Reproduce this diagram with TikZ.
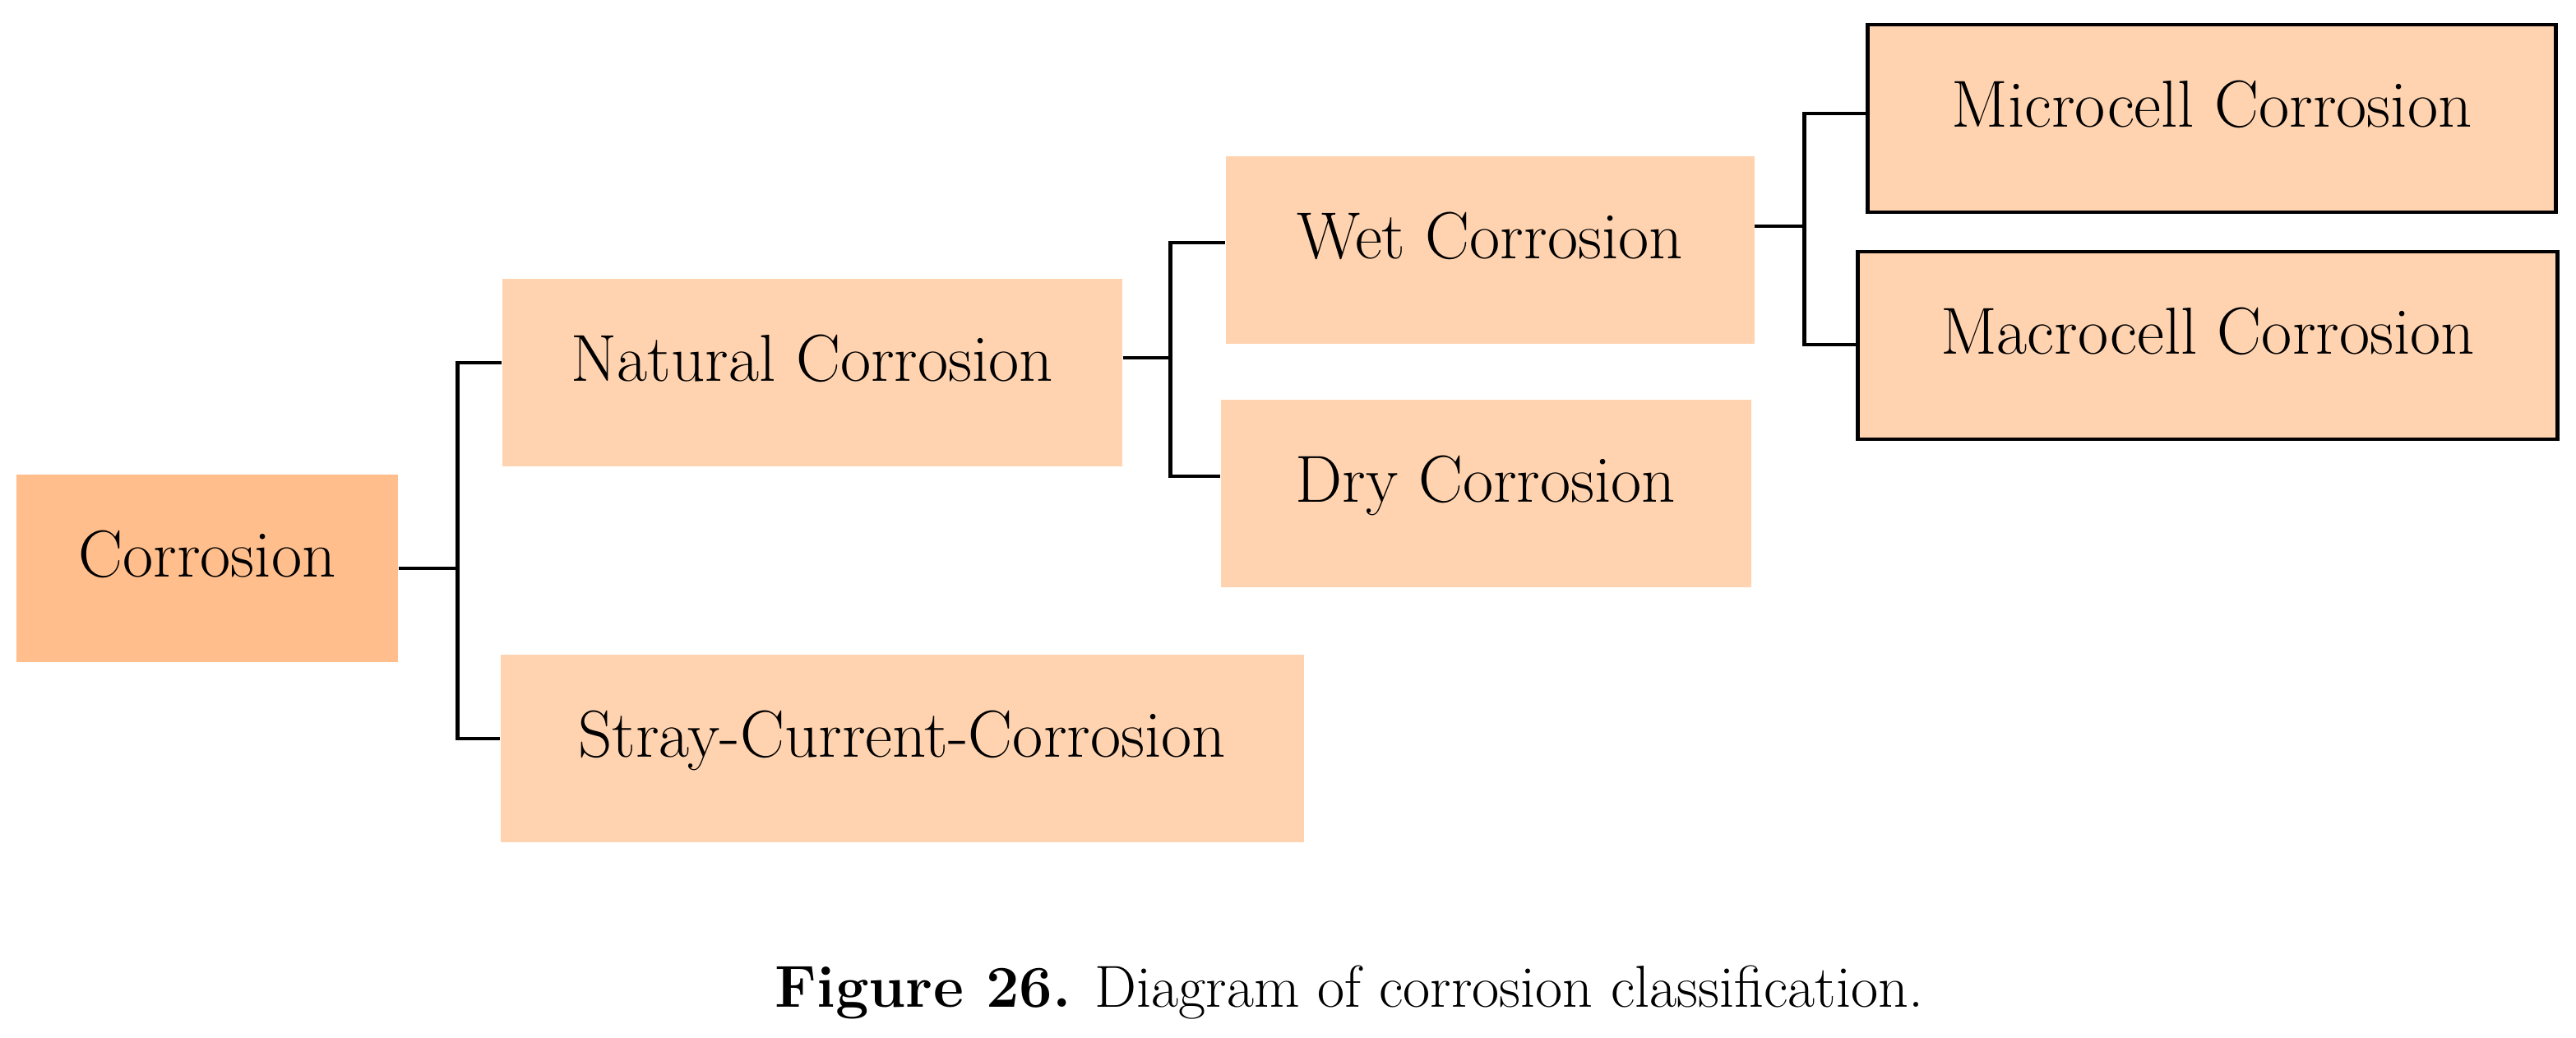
\documentclass[tikz,border=0pt]{standalone}
\usepackage{tikz}
\usetikzlibrary{positioning}
\definecolor{rootorange}{RGB}{255,190,140}
\definecolor{boxorange}{RGB}{255,211,176}
\tikzset{%
  box/.style={rectangle,fill=boxorange,inner sep=0pt,minimum height=2.28cm,%
    font=\fontsize{23}{27}\selectfont,text height=16.5pt,text depth=10.8pt},
  rootbox/.style={box,fill=rootorange},
  framebox/.style={box,draw=black,line width=1.4pt},
  wire/.style={draw,line width=1.3pt}
}
\begin{document}
\begin{tikzpicture}
	\useasboundingbox (0,0) rectangle (31.33,-12.62);
	% level 0 and 1
	\node[rootbox,minimum width=4.64cm] (corr) at (2.52,-6.91) {Corrosion};
	\node[box,minimum width=7.54cm] (nat) at (9.88,-4.53) {Natural Corrosion};
	\node[box,minimum width=9.77cm] (stray) at (10.97,-9.10) {Stray-Current-Corrosion};
	% level 2
	\node[box,minimum width=6.43cm] (wet) at (18.12,-3.04) {Wet Corrosion};
	\node[box,minimum width=6.45cm] (dry) at (18.07,-6.00) {Dry Corrosion};
	% level 3
	\node[framebox,minimum width=8.37cm] (micro) at (26.90,-1.44) {Microcell Corrosion};
	\node[framebox,minimum width=8.51cm] (macro) at (26.85,-4.20) {Macrocell Corrosion};
	% brackets
	\coordinate[right=7.2mm of corr.east] (j1);
	\coordinate[right=5.8mm of nat.east,yshift=1.8mm] (j2);
	\coordinate[right=6mm of wet.east,yshift=2.9mm] (j3);
	\draw[wire] (corr.east) -- (j1);
	\draw[wire] ([yshift=1.2mm]nat.west) -| (j1) |- ([yshift=1.2mm]stray.west);
	\draw[wire] ([yshift=1.8mm]nat.east) -- (j2);
	\draw[wire] ([yshift=.9mm]wet.west) -| (j2) |- ([yshift=2.1mm]dry.west);
	\draw[wire] ([yshift=2.9mm]wet.east) -- (j3);
	\draw[wire] ([yshift=.6mm]micro.west) -| (j3) |- ([yshift=.1mm]macro.west);
	% caption
	\node[font=\fontsize{20.5}{24}\selectfont] (cap) at (16.41,-12.07)
		{\textbf{Figure 26.} Diagram of corrosion classification.};
\end{tikzpicture}
\end{document}
